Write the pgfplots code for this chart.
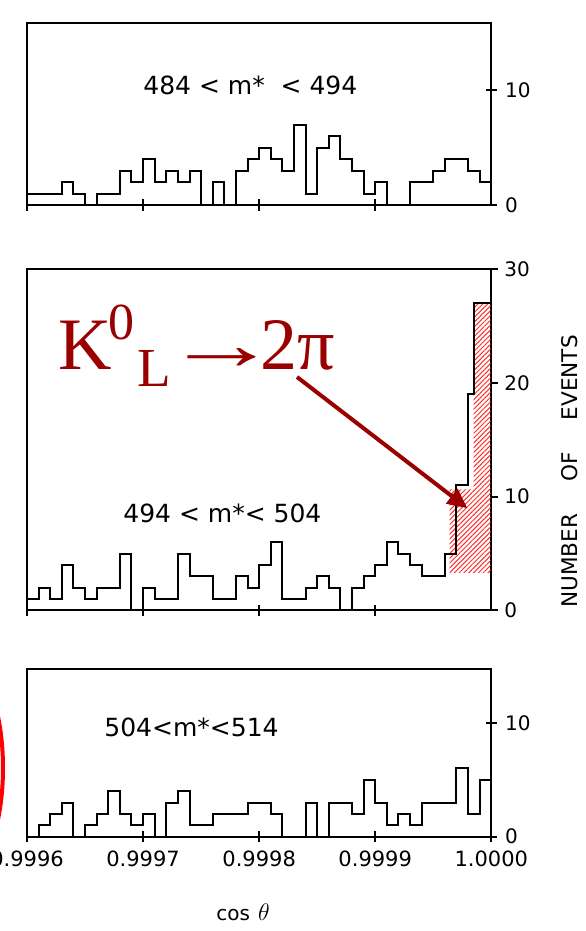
\documentclass[border=0pt]{standalone}
\usepackage{pgfplots}
\pgfplotsset{compat=1.18}
\usepackage{fontspec}
\setmainfont{DejaVu Sans}
\newfontfamily\tnr{Liberation Serif}
\usetikzlibrary{arrows.meta,patterns.meta}
\definecolor{kred}{RGB}{155,0,0}
\definecolor{hred}{RGB}{255,45,45}

\pgfplotstableread{
bin top mid bot
0  1  1  0
1  1  2  1
2  1  1  2
3  2  4  3
4  1  2  0
5  0  1  1
6  1  2  2
7  1  2  4
8  3  5  2
9  2  0  1
10 4  2  2
11 2  1  0
12 3  1  3
13 2  5  4
14 3  3  1
15 0  3  1
16 2  1  2
17 0  1  2
18 3  3  2
19 4  2  3
20 5  4  3
21 4  6  2
22 3  1  0
23 7  1  0
24 1  2  3
25 5  3  0
26 6  2  3
27 4  0  3
28 3  2  2
29 1  3  5
30 2  4  3
31 0  6  1
32 0  5  2
33 2  4  1
34 2  3  3
35 3  3  3
36 4  5  3
37 4  11 6
38 3  19 2
39 2  19 5
40 2  19 5
}\histdata

\pgfplotsset{
  panel/.style={
    scale only axis, width=232.15pt, xmin=0, xmax=40, ymin=0,
    anchor=south west, clip=false,
    axis line style={line width=1pt},
    every tick/.style={black, line width=1pt},
    major tick length=5.7pt, tick align=center,
    xtick={0,10,20,30}, xtick pos=bottom, xticklabels={},
    ytick pos=right, yticklabel pos=right,
    yticklabel style={anchor=west, inner sep=0pt, xshift=3.9pt, font=\fontsize{10}{12}\selectfont},
    xticklabel style={anchor=center, inner sep=0pt, yshift=-8.2pt, font=\fontsize{10.5}{12}\selectfont},
    /pgf/number format/assume math mode=true,
    extra y tick style={draw=none},
    extra x tick style={draw=none},
  }
}

\begin{document}
\begin{tikzpicture}[x=0.5pt,y=0.5pt]
\useasboundingbox (0,0) rectangle (585,931);
\clip (0,0) rectangle (585,931);

% top panel
\begin{axis}[panel, at={(13.5pt,363pt)}, height=90.85pt, ymax=15.85,
  ytick={10}, extra y ticks={0}, extra y tick labels={0}]
\addplot[const plot, black, line width=1pt] table[x=bin, y=top] {\histdata};
\end{axis}

% middle panel
\begin{axis}[panel, at={(13.5pt,160.3pt)}, height=170.55pt, ymax=30,
  tick align=outside, major tick length=3.4pt,
  yticklabel style={xshift=-1.0pt},
  xtick=\empty, extra x ticks={0,10,20,30}, extra x tick labels={},
  extra x tick style={tick align=center, major tick length=5.7pt},
  ytick={10,20}, extra y ticks={0,30}, extra y tick labels={0,30}]
\addplot[draw=none, pattern={Lines[angle=45,distance=1.7pt,line width=0.5pt]}, pattern color=hred]
  coordinates {(36.4,3.3) (36.4,10.65) (38.47,10.65) (38.47,27) (39.95,27) (39.95,3.3)} -- cycle;
\addplot[const plot, black, line width=1pt] coordinates {
(0,1) (1,2) (2,1) (3,4) (4,2) (5,1) (6,2) (7,2) (8,5) (9,0)
(10,2) (11,1) (12,1) (13,5) (14,3) (15,3) (16,1) (17,1) (18,3) (19,2)
(20,4) (21,6) (22,1) (23,1) (24,2) (25,3) (26,2) (27,0) (28,2) (29,3)
(30,4) (31,6) (32,5) (33,4) (34,3) (35,3) (36,5) (37,11) (38,19) (38.47,27) (40,27)};
\end{axis}

% bottom panel
\begin{axis}[panel, at={(13.5pt,47.15pt)}, height=83.7pt, ymax=14.7,
  ytick={10}, extra y ticks={0}, extra y tick labels={0},
  xticklabels={0.9996,0.9997,0.9998,0.9999},
  extra x ticks={40}, extra x tick labels={1.0000}]
\addplot[const plot, black, line width=1pt] table[x=bin, y=bot] {\histdata};
\end{axis}

% panel labels
\node[anchor=base west, inner sep=0pt, font=\fontsize{12.5}{15}\selectfont] at (143,836) {484 < m* \ < 494};
\node[anchor=base west, inner sep=0pt, font=\fontsize{12.5}{15}\selectfont] at (123,408) {494 < m*< 504};
\node[anchor=base west, inner sep=0pt, font=\fontsize{12.5}{15}\selectfont] at (104,194.3) {504<m*<514};

% axis titles
\node[rotate=90, inner sep=0pt, font=\fontsize{10.8}{13}\selectfont] at (570,459.5) {NUMBER\hspace{16pt}OF\hspace{16pt}EVENTS};
\node[inner sep=0pt, font=\fontsize{10}{12}\selectfont] at (243,19) {cos\hspace{4pt}{\fontsize{13}{14}\selectfont$\theta$}};

% annotation
\node[anchor=base west, inner sep=0pt, text=kred, font=\tnr\fontsize{37}{40}\selectfont] at (58,561.7) {K};
\node[anchor=base west, inner sep=0pt, text=kred, font=\tnr\fontsize{26}{28}\selectfont] at (108,591) {0};
\node[anchor=base west, inner sep=0pt, text=kred, font=\tnr\fontsize{27.5}{30}\selectfont] at (136.7,544.3) {L};
\node[anchor=base, inner sep=0pt, text=kred, font=\tnr\fontsize{37}{40}\selectfont] at (222,561.7) {\makebox[0pt]{\scalebox{1.55}[1]{→}}};
\node[anchor=base west, inner sep=0pt, text=kred, font=\tnr\fontsize{37}{40}\selectfont] at (260,561.7) {2π};
\draw[kred, line width=2pt, -{Triangle[length=10pt,width=9pt]}] (297,554) -- (467.5,422.7);

\draw[red, line width=2pt] (-48.5,163) ellipse [x radius=25.75pt, y radius=60pt];
\end{tikzpicture}
\end{document}
